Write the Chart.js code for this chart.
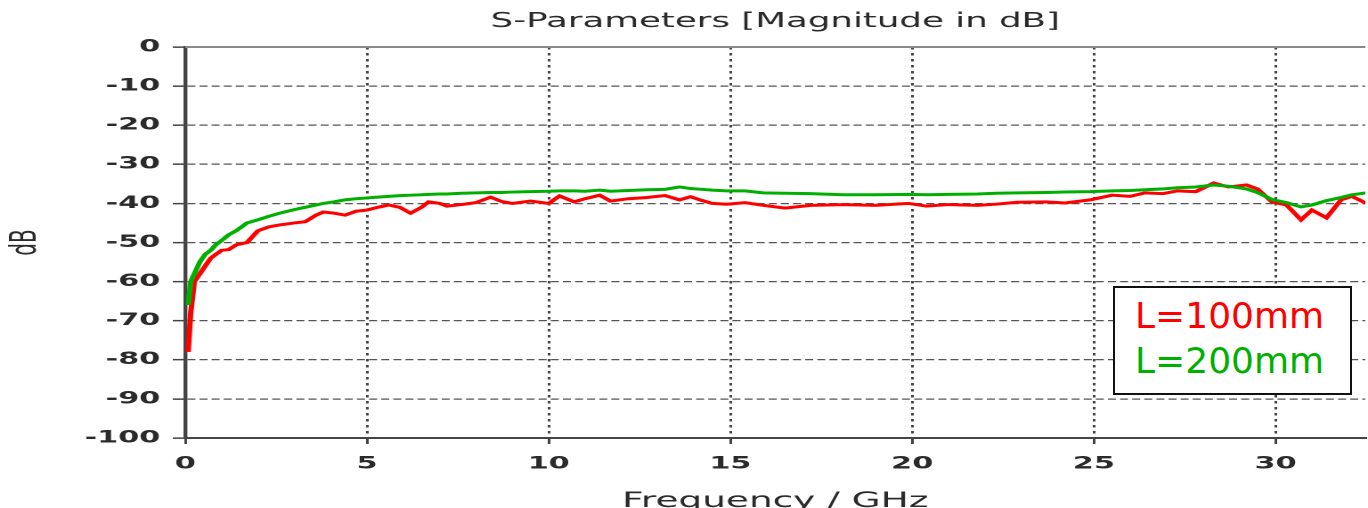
<!DOCTYPE html>
<html>
<head>
<meta charset="utf-8">
<title>S-Parameters</title>
<script src="https://cdn.jsdelivr.net/npm/chart.js@4"></script>
<style>
  html, body { margin: 0; padding: 0; background: #fff; overflow: hidden; }
  #stage { position: relative; width: 1368px; height: 508px; }
  /* the original plot is stretched sideways, so draw narrow and stretch */
  #wrap { position: absolute; left: 0; top: 0; width: 768px; height: 508px;
          transform: scaleX(1.78125); transform-origin: 0 0; }
  #legendBox { position: absolute; left: 1113px; top: 286px; width: 235px; height: 105px;
               border: 2px solid #111; background: #fff; box-sizing: content-box;
               font-family: "DejaVu Sans", Verdana, sans-serif; font-size: 36px; }
  #legendBox div { position: absolute; left: 20px; line-height: 45px; white-space: nowrap; }
</style>
</head>
<body>
<div id="stage">
  <div id="wrap"><canvas id="spChart"></canvas></div>
  <div id="legendBox"></div>
</div>
<script>
// frequency in GHz, magnitude in dB
const freq = [0.08, 0.15, 0.25, 0.4, 0.55, 0.7, 0.85, 1.0, 1.2, 1.4, 1.7, 2.0, 2.3, 2.6, 3.0, 3.3,
  3.6, 3.8, 4.1, 4.4, 4.7, 5.0, 5.3, 5.6, 5.9, 6.2, 6.5, 6.7, 7.0, 7.2, 7.6, 8.0, 8.4, 8.7, 9.0,
  9.5, 10.0, 10.3, 10.7, 11.0, 11.4, 11.7, 12.2, 12.7, 13.2, 13.6, 13.9, 14.2, 14.5, 14.9, 15.4,
  15.9, 16.5, 17.2, 18.1, 19.0, 19.9, 20.4, 21.0, 21.8, 22.3, 22.9, 23.7, 24.2, 24.9, 25.5, 26.0,
  26.4, 26.9, 27.3, 27.8, 28.3, 28.7, 29.2, 29.5, 29.9, 30.3, 30.7, 31.0, 31.4, 31.8, 32.1, 32.5];

const dB_100mm = [-78, -68, -60, -58, -56, -54, -53, -52, -51.8, -50.6, -50, -47, -46, -45.5, -45, -44.7,
  -43, -42.2, -42.5, -43, -42, -41.7, -41, -40.4, -41, -42.5, -41, -39.6, -40, -40.7, -40.3, -39.8, -38.4, -39.5, -40,
  -39.4, -40, -38.1, -39.6, -38.8, -37.9, -39.4, -38.8, -38.5, -38.0, -39.1, -38.3, -39.2, -40, -40.2, -39.8,
  -40.5, -41.2, -40.5, -40.3, -40.5, -40, -40.7, -40.3, -40.5, -40.2, -39.7, -39.6, -39.9, -39.1, -37.9, -38.2,
  -37.3, -37.5, -36.8, -37, -34.8, -35.8, -35.3, -36.3, -39.6, -40.4, -44.2, -41.7, -43.7, -39.1, -38.2, -40];

const dB_200mm = [-66, -60, -58, -55, -53, -52, -50.5, -49.5, -48, -47, -45, -44.2, -43.3, -42.5, -41.6, -41,
  -40.4, -40, -39.6, -39.1, -38.8, -38.6, -38.4, -38.2, -38, -37.9, -37.8, -37.7, -37.6, -37.6, -37.4, -37.3, -37.2, -37.2, -37.1,
  -37, -36.9, -36.8, -36.8, -36.9, -36.6, -36.9, -36.7, -36.5, -36.4, -35.8, -36.2, -36.4, -36.6, -36.8, -36.8,
  -37.3, -37.4, -37.5, -37.8, -37.8, -37.7, -37.8, -37.7, -37.6, -37.4, -37.3, -37.2, -37.1, -37, -36.8, -36.7,
  -36.5, -36.3, -36, -35.8, -35.3, -35.6, -36.3, -37.2, -39, -39.8, -40.9, -40.4, -39.3, -38.5, -37.8, -37.3];

const seriesNames = ['L=100mm', 'L=200mm'];
const yTicks = [0, -10, -20, -30, -40, -50, -60, -70, -80, -90, -100];
const xTicks = [0, 5, 10, 15, 20, 25, 30];

const RED = '#ff0000';
const GREEN = '#00b000';

function toPoints(vals) {
  return freq.map((f, i) => ({ x: f, y: vals[i] }));
}

// solid frame line along the top of the plot
const topFrame = {
  id: 'topFrame',
  beforeDatasetsDraw(chart) {
    const a = chart.chartArea;
    const ctx = chart.ctx;
    ctx.save();
    ctx.strokeStyle = '#8a8a8a';
    ctx.lineWidth = 2;
    ctx.beginPath();
    ctx.moveTo(a.left, a.top);
    ctx.lineTo(a.right, a.top);
    ctx.stroke();
    ctx.restore();
  }
};

const chart = new Chart(document.getElementById('spChart'), {
  type: 'line',
  data: {
    datasets: [{
      label: seriesNames[0],
      data: toPoints(dB_100mm),
      borderColor: RED,
      borderWidth: 3,
      pointRadius: 0,
      tension: 0,
      order: 1
    }, {
      label: seriesNames[1],
      data: toPoints(dB_200mm),
      borderColor: GREEN,
      borderWidth: 3,
      pointRadius: 0,
      tension: 0,
      order: 0
    }]
  },
  options: {
    responsive: true,
    maintainAspectRatio: false,
    devicePixelRatio: 2,
    animation: false,
    layout: { padding: 0 },
    plugins: {
      legend: { display: false },
      tooltip: { enabled: false },
      title: {
        display: true,
        fullSize: false,
        text: 'S-Parameters [Magnitude in dB]',
        color: '#2a2a2a',
        font: { family: 'DejaVu Sans', size: 20, weight: 'normal' },
        padding: { top: 10, bottom: 13 }
      }
    },
    scales: {
      x: {
        type: 'linear',
        min: 0,
        max: 32.47,
        afterFit(s) { s.height = 70; },
        afterBuildTicks(s) { s.ticks = xTicks.map(v => ({ value: v })); },
        ticks: {
          includeBounds: false,
          color: '#2a2a2a',
          padding: 10,
          font: { family: 'DejaVu Sans', size: 17, weight: 'bold' }
        },
        grid: {
          color: '#444',
          lineWidth: 1.5,
          tickLength: 6,
          tickColor: '#444',
          tickWidth: 1.5
        },
        border: { display: true, color: '#444', width: 2, dash: [2.5, 3.5] },
        title: {
          display: true,
          text: 'Frequency / GHz',
          color: '#2a2a2a',
          font: { family: 'DejaVu Sans', size: 21, weight: 'normal' },
          padding: { top: 0, bottom: -6 }
        }
      },
      y: {
        min: -100,
        max: 0,
        afterFit(s) { s.width = 104; },
        afterBuildTicks(s) { s.ticks = yTicks.map(v => ({ value: v })); },
        ticks: {
          color: '#2a2a2a',
          padding: 7,
          font: { family: 'DejaVu Sans', size: 17, weight: 'bold' }
        },
        grid: {
          color: '#555',
          lineWidth: 1.3,
          tickLength: 7,
          tickColor: '#444',
          tickWidth: 1.5
        },
        border: { display: true, color: '#444', width: 2.2, dash: [4.5, 2.3] },
        title: {
          display: true,
          text: 'dB',
          color: '#2a2a2a',
          font: { family: 'DejaVu Sans', size: 20, weight: 'normal' },
          padding: { top: 3, bottom: 0 }
        }
      }
    }
  },
  plugins: [topFrame]
});

// legend overlay, kept out of the stretched canvas like in the original
const legendBox = document.getElementById('legendBox');
chart.data.datasets.forEach((ds, i) => {
  const row = document.createElement('div');
  row.textContent = ds.label;
  row.style.color = ds.borderColor;
  row.style.top = (5 + i * 45) + 'px';
  legendBox.appendChild(row);
});
</script>
</body>
</html>
